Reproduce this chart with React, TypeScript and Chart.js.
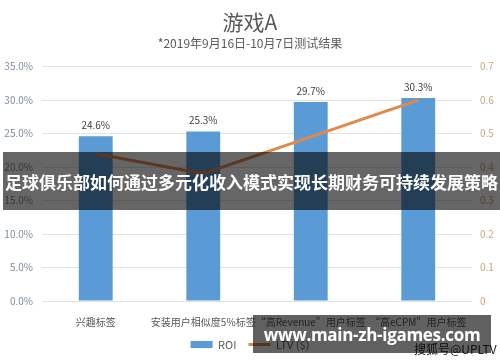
import React, { useEffect, useRef } from "react";
import { Chart, registerables } from "chart.js";

Chart.register(...registerables);

const categories = ["兴趣标签", "安装用户相似度5%标签", "“高Revenue”用户标签", "“高eCPM”用户标签"];
const roiValues = [24.6, 25.3, 29.7, 30.3];
const ltvValues = [0.44, 0.38, 0.49, 0.6];
const roiTicks = [0, 5, 10, 15, 20, 25, 30, 35];
const ltvTicks = [0, 0.1, 0.2, 0.3, 0.4, 0.5, 0.6, 0.7];
const titleText = "游戏A";
const subtitleText = "*2019年9月16日-10月7日测试结果";
const bannerText = "足球俱乐部如何通过多元化收入模式实现长期财务可持续发展策略";
const siteText = "www.main-zh-igames.com";
const sourceText = "搜狐号@UPLTV";

const FONT = "'Noto Sans CJK SC', 'Open Sans', sans-serif";

const barLabelPlugin = {
  id: "barLabels",
  afterDatasetsDraw(chart: any) {
    const ctx = chart.ctx;
    const meta = chart.getDatasetMeta(0);
    ctx.save();
    ctx.font = `10px ${FONT}`;
    ctx.fillStyle = "#404040";
    ctx.textAlign = "center";
    ctx.textBaseline = "middle";
    meta.data.forEach((bar: any, i: number) => {
      ctx.fillText(roiValues[i].toFixed(1) + "%", bar.x, bar.y - 11);
    });
    ctx.restore();
  },
};

export default function App() {
  const ref = useRef<HTMLCanvasElement>(null);

  useEffect(() => {
    document.body.style.margin = "0";
    const chart = new Chart(ref.current!, {
      type: "bar",
      data: {
        labels: categories,
        datasets: [
          {
            type: "bar",
            label: "ROI",
            data: roiValues,
            backgroundColor: "#5B9BD5",
            categoryPercentage: 1,
            barPercentage: 0.315,
            yAxisID: "y",
            order: 1,
            pointStyle: "rect",
          } as any,
          {
            type: "line",
            label: "LTV ($)",
            data: ltvValues,
            borderColor: "#E2894A",
            backgroundColor: "#E2894A",
            borderWidth: 3,
            pointRadius: 0,
            tension: 0,
            yAxisID: "y1",
            order: 0,
            pointStyle: "line",
          } as any,
        ],
      },
      options: {
        responsive: false,
        animation: false,
        layout: { padding: { left: 0, right: 0, top: 0, bottom: 2 } },
        plugins: {
          tooltip: { enabled: false },
          title: {
            display: true,
            text: titleText,
            color: "#595959",
            font: { family: FONT, size: 21, weight: "normal" as any, lineHeight: 1.2 },
            padding: { top: 9, bottom: 1 },
          },
          subtitle: {
            display: true,
            text: subtitleText,
            color: "#595959",
            font: { family: FONT, size: 12, lineHeight: 1.2 },
            padding: { top: 1, bottom: 16 },
          },
          legend: {
            position: "bottom",
            labels: {
              usePointStyle: true,
              pointStyleWidth: 22,
              boxWidth: 22,
              boxHeight: 7,
              color: "#595959",
              font: { family: FONT, size: 11 },
              padding: 12,
              sort: (a: any, b: any) => a.datasetIndex - b.datasetIndex,
            },
          },
        },
        scales: {
          x: {
            grid: { display: false },
            border: { display: false },
            ticks: { color: "#595959", font: { family: FONT, size: 10 }, padding: 7, maxRotation: 0, autoSkip: false },
            afterFit: (s: any) => { s.height = 26; },
          },
          y: {
            position: "left",
            min: 0,
            max: 35,
            afterBuildTicks: (s: any) => { s.ticks = roiTicks.map((v) => ({ value: v })); },
            grid: { color: "#E3E3E3", drawTicks: false, lineWidth: 1 },
            border: { display: false },
            ticks: {
              color: "#7F8C9D",
              font: { family: FONT, size: 10 },
              padding: 9,
              callback: (v: any) => Number(v).toFixed(1) + "%",
            },
            afterFit: (s: any) => { s.width = 42; },
          },
          y1: {
            position: "right",
            min: 0,
            max: 0.7,
            afterBuildTicks: (s: any) => { s.ticks = ltvTicks.map((v) => ({ value: v })); },
            grid: { display: false, drawTicks: false },
            border: { display: false },
            ticks: {
              color: "#C9A77C",
              font: { family: FONT, size: 10 },
              padding: 8,
              callback: (v: any) => (Number(v) === 0 ? "0" : Number(v).toFixed(1)),
            },
            afterFit: (s: any) => { s.width = 28; },
          },
        },
      },
      plugins: [barLabelPlugin],
    });
    return () => chart.destroy();
  }, []);

  return (
    <div style={{ position: "relative", width: 500, height: 362, background: "#fff", overflow: "hidden" }}>
      <canvas ref={ref} width={500} height={362} style={{ display: "block" }} />
      <div
        style={{
          position: "absolute",
          left: 3,
          top: 152,
          width: 497,
          height: 58,
          background: "rgba(0,0,0,0.6)",
          color: "#fff",
          fontFamily: FONT,
          fontWeight: 700,
          fontSize: 17,
          display: "flex",
          alignItems: "center",
          justifyContent: "center",
          whiteSpace: "nowrap",
        }}
      >
        {bannerText}
      </div>
      <div
        style={{
          position: "absolute",
          left: 414,
          top: 340,
          color: "#222",
          fontFamily: FONT,
          fontSize: 12,
          whiteSpace: "nowrap",
        }}
      >
        {sourceText}
      </div>
      <div
        style={{
          position: "absolute",
          left: 253,
          top: 315,
          width: 238,
          height: 38,
          background: "rgba(0,0,0,0.62)",
          color: "#fff",
          fontFamily: "'Open Sans', sans-serif",
          fontWeight: 700,
          fontSize: 17,
          letterSpacing: -0.3,
          display: "flex",
          alignItems: "center",
          justifyContent: "center",
          whiteSpace: "nowrap",
          overflow: "hidden",
        }}
      >
        {siteText}
      </div>
    </div>
  );
}
